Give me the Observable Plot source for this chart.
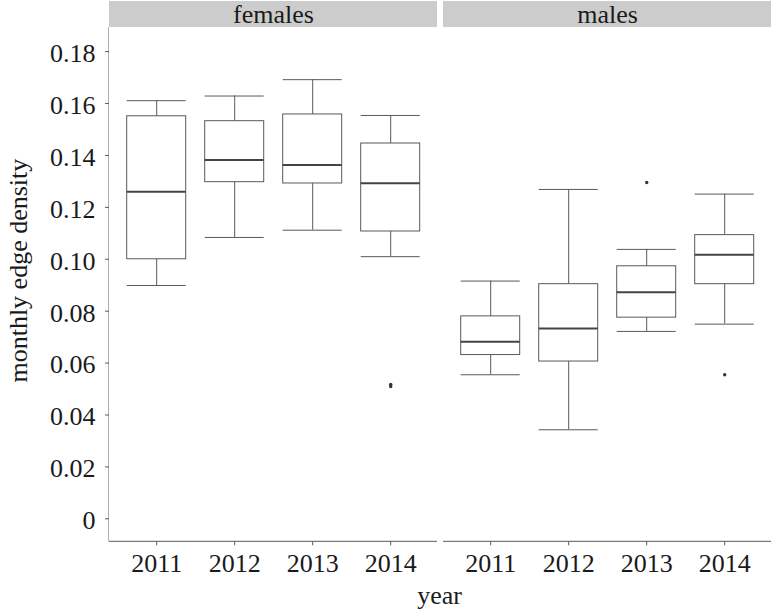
<!DOCTYPE html>
<html>
<head>
<meta charset="utf-8">
<script src="https://cdn.jsdelivr.net/npm/d3@7"></script>
<script src="https://cdn.jsdelivr.net/npm/@observablehq/plot@0.6"></script>
<style>
  html, body { margin: 0; padding: 0; background: #fff; }
  #chart svg { display: block; }
</style>
</head>
<body>
<div id="chart"></div>
<script>
const years = ["2011", "2012", "2013", "2014"];
const sexes = ["females", "males"];
const yTicks = [0, 0.02, 0.04, 0.06, 0.08, 0.10, 0.12, 0.14, 0.16, 0.18];

const femLow  = [0.0899, 0.1084, 0.1112, 0.1010];
const femQ1   = [0.1000, 0.1297, 0.1292, 0.1107];
const femMed  = [0.1260, 0.1382, 0.1363, 0.1293];
const femQ3   = [0.1551, 0.1532, 0.1558, 0.1446];
const femHigh = [0.1611, 0.1629, 0.1692, 0.1554];

const maleLow  = [0.0555, 0.0343, 0.0722, 0.0750];
const maleQ1   = [0.0631, 0.0606, 0.0775, 0.0904];
const maleMed  = [0.0682, 0.0733, 0.0873, 0.1017];
const maleQ3   = [0.0780, 0.0904, 0.0973, 0.1093];
const maleHigh = [0.0916, 0.1269, 0.1038, 0.1251];

const outlierSex   = ["females", "females", "males", "males"];
const outlierYear  = ["2014", "2014", "2013", "2014"];
const outlierValue = [0.0510, 0.0518, 0.1296, 0.0555];

const stats = [];
years.forEach((yr, i) => {
  stats.push({sex: "females", year: yr, low: femLow[i], q1: femQ1[i], med: femMed[i], q3: femQ3[i], high: femHigh[i]});
});
years.forEach((yr, i) => {
  stats.push({sex: "males", year: yr, low: maleLow[i], q1: maleQ1[i], med: maleMed[i], q3: maleQ3[i], high: maleHigh[i]});
});
const outliers = outlierValue.map((v, i) => ({sex: outlierSex[i], year: outlierYear[i], value: v}));

const W = 774, H = 609;
const mTop = 27, mBottom = 67.7, mLeft = 108.3, mRight = 2.3;
const fxPadInner = 0.019;
const frameH = H - mTop - mBottom;
const facetW = (W - mLeft - mRight) / (sexes.length - fxPadInner) * (1 - fxPadInner);
const font = "'Liberation Serif', 'Times New Roman', serif";
const lineColor = "#595959";
const textColor = "#1a1a1a";
const yFormat = d => d === 0 ? "0" : d.toFixed(2);

const plot = Plot.plot({
  width: W,
  height: H,
  marginTop: mTop,
  marginBottom: mBottom,
  marginLeft: mLeft,
  marginRight: mRight,
  style: {fontFamily: font, color: textColor, background: "#fff"},
  fx: {domain: sexes, paddingInner: fxPadInner, paddingOuter: 0, axis: null, label: null},
  x: {domain: years, type: "band", paddingInner: 0.25, paddingOuter: 0.225, label: null},
  y: {domain: [-0.00886, 0.1893], label: null},
  marks: [
    // facet strips
    Plot.rect(sexes, {fx: d => d, fill: "#cccccc", insetTop: -26, insetBottom: frameH}),
    Plot.text(sexes, {fx: d => d, text: d => d, frameAnchor: "top", dy: -4.5, lineAnchor: "bottom",
                      fontSize: 26, fill: textColor}),
    // axis lines (left of first panel, bottom of every panel)
    Plot.rect(["females"], {fx: d => d, fill: lineColor, insetLeft: -0.5, insetRight: facetW - 0.5}),
    Plot.rect(sexes, {fx: d => d, fill: lineColor, insetTop: frameH - 0.5, insetBottom: -0.5}),
    // whiskers
    Plot.ruleX(stats, {fx: "sex", x: "year", y1: "low", y2: "high", stroke: lineColor, strokeWidth: 1}),
    Plot.tickY(stats, {fx: "sex", x: "year", y: "low", stroke: lineColor, strokeWidth: 1}),
    Plot.tickY(stats, {fx: "sex", x: "year", y: "high", stroke: lineColor, strokeWidth: 1}),
    // boxes
    Plot.barY(stats, {fx: "sex", x: "year", y1: "q1", y2: "q3", fill: "#fff", stroke: lineColor, strokeWidth: 1}),
    // medians
    Plot.tickY(stats, {fx: "sex", x: "year", y: "med", stroke: "#444", strokeWidth: 2}),
    // outliers
    Plot.dot(outliers, {fx: "sex", x: "year", y: "value", r: 1.7, fill: "#333", stroke: null}),
    // y axis: tick marks, then labels nudged to sit like the reference
    Plot.axisY({ticks: yTicks, tickSize: 4, text: null, stroke: lineColor, label: null}),
    Plot.axisY({ticks: yTicks, tickFormat: yFormat, tickSize: 0, tickPadding: 14, dy: 2,
                fontSize: 26, fill: textColor, label: null}),
    Plot.axisX({tickSize: 4, tickPadding: 8, fontSize: 26, stroke: lineColor, fill: textColor, label: null}),
    // axis titles
    Plot.text(["females"], {fx: d => d, text: () => "monthly edge density", frameAnchor: "left", rotate: -90,
                            textAnchor: "middle", dx: -83, dy: -14, lineAnchor: "bottom", fontSize: 26, fill: textColor}),
    Plot.text(["females"], {fx: d => d, text: () => "year", frameAnchor: "bottom", textAnchor: "middle",
                            dx: 166, dy: 61.7, lineAnchor: "bottom", fontSize: 26, fill: textColor})
  ]
});
document.getElementById("chart").appendChild(plot);
</script>
</body>
</html>
